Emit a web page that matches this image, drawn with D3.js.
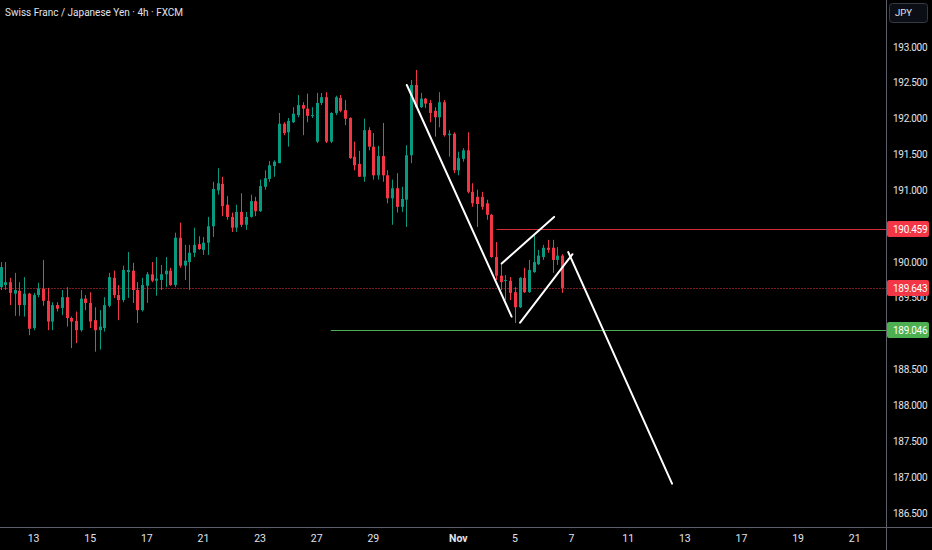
<!DOCTYPE html>
<html>
<head>
<meta charset="utf-8">
<script src="https://cdn.jsdelivr.net/npm/d3@7"></script>
<style>
  html, body { margin: 0; padding: 0; background: #000; }
  svg { display: block; font-family: Roboto, "Noto Sans", sans-serif; }
</style>
</head>
<body>
<svg></svg>
<script>
// CHF/JPY 4h candles (open, high, low, close)
const opens = [189.65,189.68,189.72,189.56,189.60,189.40,189.56,189.08,189.54,189.63,
  189.46,189.17,189.40,189.36,189.51,189.22,189.18,189.05,189.49,189.43,
  189.19,189.05,189.08,189.39,189.78,189.54,189.47,189.86,189.88,189.61,
  189.33,189.67,189.83,189.74,189.75,189.83,189.88,189.68,190.34,189.95,
  190.00,190.13,190.25,190.17,190.27,190.50,191.00,191.09,190.80,190.63,
  190.48,190.70,190.52,190.63,190.85,190.71,191.05,191.16,191.34,191.38,
  191.93,191.81,191.95,192.05,192.19,192.14,192.04,191.68,192.22,192.30,
  191.68,192.08,192.29,192.12,192.01,191.47,191.37,191.19,191.84,191.61,
  191.21,191.48,191.21,190.89,191.03,190.77,190.87,191.49,192.47,192.16,
  192.28,192.22,192.11,192.02,192.23,191.77,191.79,191.28,191.44,191.56,
  190.98,190.91,190.91,190.82,190.66,190.07,189.81,189.74,189.74,189.58,
  189.37,189.78,189.58,189.86,189.97,190.07,190.20,190.20,190.03,190.09];
const highs = [190.00,190.00,189.78,189.85,189.72,189.79,189.57,189.57,189.71,190.03,
  189.64,189.44,189.44,189.61,189.65,189.24,189.31,189.61,189.54,189.58,
  189.37,189.33,189.51,189.85,189.88,189.68,189.95,190.14,189.99,189.72,
  189.78,189.86,190.00,190.07,189.96,190.07,189.92,190.41,190.55,190.24,
  190.24,190.48,190.36,190.35,190.63,191.12,191.31,191.19,190.92,190.69,
  190.80,190.96,190.70,190.94,190.91,191.15,191.28,191.41,191.42,192.08,
  191.95,192.01,192.16,192.33,192.23,192.35,192.16,192.36,192.36,192.37,
  192.09,192.32,192.33,192.26,192.02,191.68,191.55,192.00,191.88,191.80,
  191.62,191.94,191.28,191.15,191.24,191.05,191.63,192.54,192.68,192.36,
  192.29,192.26,192.16,192.37,192.26,191.84,191.81,191.54,191.59,191.81,
  191.10,191.01,190.98,190.87,190.67,190.28,189.99,189.82,189.79,189.65,
  189.79,189.92,190.03,190.38,190.17,190.24,190.31,190.31,190.21,190.11];
const lows = [189.61,189.61,189.40,189.25,189.25,189.24,188.98,189.05,189.51,189.39,
  189.05,189.05,189.31,189.26,189.10,188.80,188.87,189.03,189.33,189.08,
  188.75,188.78,189.03,189.37,189.50,189.19,189.44,189.50,189.43,189.15,
  189.31,189.43,189.72,189.53,189.61,189.65,189.67,189.65,189.92,189.75,
  189.61,190.07,190.17,190.10,190.10,190.35,190.94,190.64,190.59,190.42,
  190.42,190.49,190.45,190.62,190.64,190.70,191.01,191.12,191.19,191.38,
  191.77,191.61,191.94,192.02,191.77,191.95,192.01,191.66,192.19,191.66,
  191.66,192.05,192.09,191.91,191.44,191.28,191.19,191.12,191.56,191.15,
  191.15,191.12,190.82,190.52,190.69,190.70,190.49,191.38,192.15,192.15,
  192.15,191.95,191.75,191.88,191.75,191.47,191.24,191.21,191.40,190.96,
  190.77,190.49,190.73,190.59,190.06,189.75,189.61,189.47,189.47,189.15,
  189.36,189.57,189.57,189.85,189.96,190.03,190.13,189.85,189.96,189.57];
const closes = [189.93,189.72,189.57,189.61,189.40,189.56,189.07,189.54,189.63,189.46,
  189.17,189.40,189.35,189.51,189.22,189.17,189.05,189.49,189.43,189.17,
  189.05,189.10,189.40,189.79,189.54,189.47,189.89,189.89,189.61,189.33,
  189.68,189.83,189.74,189.77,189.83,189.88,189.68,190.34,189.95,190.02,
  190.13,190.24,190.18,190.27,190.50,191.02,191.10,190.78,190.63,190.48,
  190.70,190.52,190.63,190.85,190.71,191.06,191.17,191.35,191.40,191.93,
  191.80,191.97,192.07,192.19,192.14,192.04,192.05,192.22,192.30,191.68,
  192.08,192.30,192.11,192.00,191.45,191.35,191.19,191.84,191.61,191.21,
  191.48,191.21,190.89,191.03,190.77,190.88,191.49,192.47,192.16,192.28,
  192.21,192.08,192.02,192.23,191.77,191.79,191.28,191.45,191.56,190.98,
  190.82,190.81,190.77,190.66,190.07,189.81,189.72,189.75,189.57,189.37,
  189.78,189.58,189.89,190.00,190.09,190.20,190.17,190.03,190.09,189.64];

// time axis: trading days since Oct 13 and their labels
const dayOffsets = [0, 2, 4, 6, 8, 10, 12, 15, 17, 19, 21, 23, 25, 27, 29];
const dayLabels = ["13", "15", "17", "21", "23", "27", "29", "Nov", "5", "7", "11", "13", "17", "19", "21"];
const barsPerDay = 6;
const firstDayBar = 7;

const priceTicks = [186.5, 187, 187.5, 188, 188.5, 189, 189.5, 190, 190.5, 191, 191.5, 192, 192.5, 193];

// horizontal levels: resistance, last price, support
const levelPrices = [190.459, 189.643, 189.046];
const levelStartBar = [105.1, 0, 70.0];
const levelKinds = ["red", "last", "green"];

// hand drawn trend lines [bar, price]
const trendFrom = [[86.1, 192.47], [106.2, 189.98], [110.1, 189.155], [120.3, 190.14]];
const trendTo = [[108.3, 189.24], [117.3, 190.63], [121.2, 190.11], [142.3, 186.91]];

const width = 932, height = 550;
const plotRight = 886, plotBottom = 527;
const up = "#089981", down = "#f23645", green = "#4caf50";
const textCol = "#e0e3eb";

const svg = d3.select("svg").attr("width", width).attr("height", height);
svg.append("rect").attr("width", width).attr("height", height).attr("fill", "#000");

const x = d3.scaleLinear().domain([0, 187]).range([0.5, 883]);
const y = d3.scaleLinear().domain([186.5, 193]).range([513, 47]);

svg.append("defs").append("clipPath").attr("id", "plot")
  .append("rect").attr("width", plotRight).attr("height", plotBottom);

const plot = svg.append("g").attr("clip-path", "url(#plot)");

const candles = d3.range(opens.length).map(i => ({
  i, o: opens[i], h: highs[i], l: lows[i], c: closes[i]
}));

// levels
levelPrices.forEach((p, k) => {
  const ln = plot.append("line")
    .attr("x1", x(levelStartBar[k])).attr("x2", plotRight)
    .attr("y1", Math.round(y(p)) + 0.5).attr("y2", Math.round(y(p)) + 0.5)
    .attr("stroke-width", 1);
  if (levelKinds[k] == "red") ln.attr("stroke", "#d12d3b");
  else if (levelKinds[k] == "green") ln.attr("stroke", green);
  else ln.attr("stroke", down).attr("stroke-dasharray", "1,2");
});

// candles
const g = plot.append("g");
g.selectAll("line.wick").data(candles).enter().append("line")
  .attr("class", "wick")
  .attr("x1", d => Math.round(x(d.i)) + 0.5).attr("x2", d => Math.round(x(d.i)) + 0.5)
  .attr("y1", d => y(d.h)).attr("y2", d => y(d.l))
  .attr("stroke", d => d.c >= d.o ? up : down)
  .attr("stroke-width", 1);

g.selectAll("rect.body").data(candles).enter().append("rect")
  .attr("class", "body")
  .attr("x", d => Math.round(x(d.i)) - 1)
  .attr("width", 3)
  .attr("y", d => y(Math.max(d.o, d.c)))
  .attr("height", d => Math.max(1, Math.abs(y(d.o) - y(d.c))))
  .attr("fill", d => d.c >= d.o ? up : down);

// trend lines
plot.selectAll("line.trend").data(trendFrom).enter().append("line")
  .attr("class", "trend")
  .attr("x1", d => x(d[0])).attr("y1", d => y(d[1]))
  .attr("x2", (d, k) => x(trendTo[k][0])).attr("y2", (d, k) => y(trendTo[k][1]))
  .attr("stroke", "#fff").attr("stroke-width", 2).attr("stroke-linecap", "round");

// axes borders
svg.append("line").attr("x1", plotRight + 0.5).attr("x2", plotRight + 0.5)
  .attr("y1", 0).attr("y2", height).attr("stroke", "#5d606b");
svg.append("line").attr("x1", 0).attr("x2", width)
  .attr("y1", plotBottom + 0.5).attr("y2", plotBottom + 0.5).attr("stroke", "#5d606b");

// price axis labels (ticks hidden under a level box are skipped, like the app does)
const visibleTicks = priceTicks.filter(t =>
  !levelPrices.some(p => Math.abs(y(t) - y(p)) < 7));
svg.selectAll("text.ptick").data(visibleTicks).enter().append("text")
  .attr("class", "ptick")
  .attr("x", 893).attr("y", d => y(d)).attr("dy", "0.35em")
  .attr("fill", textCol).attr("font-size", 10).attr("letter-spacing", -0.3)
  .text(d => d3.format(".3f")(d));

// price level boxes
levelPrices.forEach((p, k) => {
  const yy = Math.round(y(p));
  svg.append("rect").attr("x", plotRight + 1).attr("y", yy - 8)
    .attr("width", 42).attr("height", 16).attr("rx", 2)
    .attr("fill", levelKinds[k] == "green" ? green : down);
  svg.append("text").attr("x", 893).attr("y", yy).attr("dy", "0.35em")
    .attr("fill", "#fff").attr("font-size", 10).attr("letter-spacing", -0.3)
    .text(d3.format(".3f")(p));
});

// currency box
svg.append("rect").attr("x", 889.5).attr("y", 3.5).attr("width", 38).attr("height", 19)
  .attr("rx", 3).attr("fill", "#0c0e15").attr("stroke", "#363a45");
svg.append("text").attr("x", 895).attr("y", 13).attr("dy", "0.35em")
  .attr("fill", textCol).attr("font-size", 9.5).text("JPY");

// time axis labels
svg.selectAll("text.ttick").data(dayOffsets).enter().append("text")
  .attr("class", "ttick")
  .attr("x", d => x(firstDayBar + d * barsPerDay))
  .attr("y", 538).attr("dy", "0.35em")
  .attr("text-anchor", "middle")
  .attr("fill", textCol).attr("font-size", 10.5)
  .attr("font-weight", (d, k) => dayLabels[k] == "Nov" ? "bold" : "normal")
  .text((d, k) => dayLabels[k]);

// title
svg.append("text").attr("x", 5).attr("y", 12).attr("dy", "0.35em")
  .attr("fill", textCol).attr("font-size", 10)
  .text("Swiss Franc / Japanese Yen · 4h · FXCM");
</script>
</body>
</html>
